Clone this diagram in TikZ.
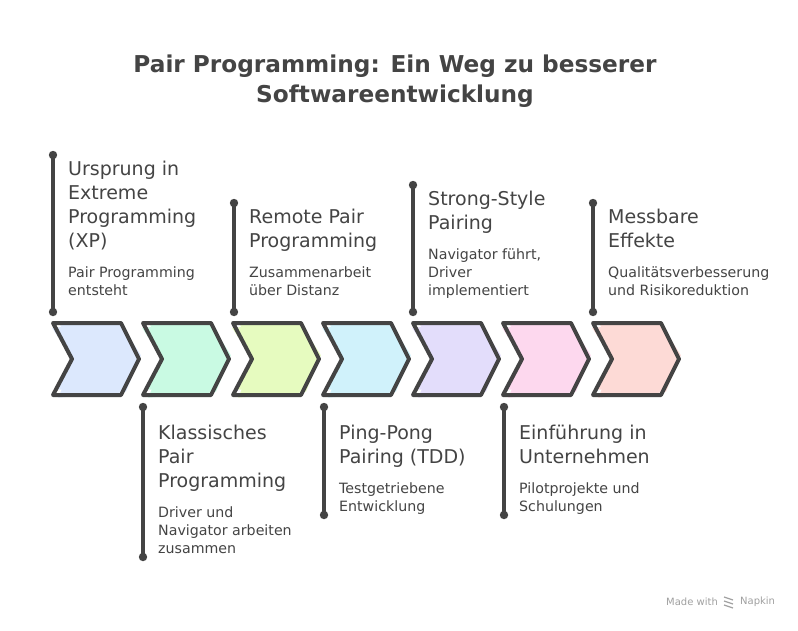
\documentclass[tikz,border=0pt]{standalone}
\usepackage{fontspec}
\setmainfont{DejaVu Sans}
\definecolor{ink}{HTML}{444444}
\definecolor{cA}{HTML}{DCE8FD}
\definecolor{cB}{HTML}{C9FAE3}
\definecolor{cC}{HTML}{E6FBBF}
\definecolor{cD}{HTML}{D0F2FB}
\definecolor{cE}{HTML}{E3DDFB}
\definecolor{cF}{HTML}{FDD8EE}
\definecolor{cG}{HTML}{FDDAD6}
\definecolor{wm}{HTML}{A0A0A0}
\tikzset{
  chevline/.style={draw=ink, line width=4pt, line join=round},
  stem/.style={draw=ink, line width=4pt},
  dotend/.style={fill=ink},
  head/.style={anchor=north west, inner sep=0pt, align=left, text=ink, font=\fontsize{19}{24}\selectfont},
  desc/.style={anchor=north west, inner sep=0pt, align=left, text=ink, font=\fontsize{14.2}{18}\selectfont},
  ttl/.style={inner sep=0pt, align=center, text=ink, font=\bfseries\fontsize{23.2}{30}\selectfont},
}
\begin{document}
\begin{tikzpicture}[x=1pt,y=-1pt]
\useasboundingbox[fill=white] (0,0) rectangle (798,630);

\node[ttl] (title) at (395,81) {Pair Programming: Ein Weg zu besserer\\Softwareentwicklung};

% chevrons
\foreach \i/\c in {0/cA,1/cB,2/cC,3/cD,4/cE,5/cF,6/cG} {
  \pgfmathsetmacro\xx{53+90*\i}
  \fill[\c, rotate around={5:(\xx+45,359)}] (\xx+2,324) -- ++(68,0) -- ++(18,35) -- ++(-18,35) -- ++(-68,0) -- ++(19,-35) -- cycle;
  \fill[\c, rotate around={-4:(\xx+43,359)}] (\xx+4,326) -- ++(64,0) -- ++(17,33) -- ++(-17,33) -- ++(-64,0) -- ++(18,-33) -- cycle;
  \draw[chevline] (\xx,323) -- ++(68,0) -- ++(18,36) -- ++(-18,36) -- ++(-68,0) -- ++(19,-36) -- cycle;
}

% stems: coordinates
\coordinate (s1a) at (53,155);  \coordinate (s1b) at (53,312);
\coordinate (s3a) at (234,203); \coordinate (s3b) at (234,312);
\coordinate (s5a) at (413,185); \coordinate (s5b) at (413,312);
\coordinate (s7a) at (593,203); \coordinate (s7b) at (593,312);
\coordinate (s2a) at (143,407); \coordinate (s2b) at (143,557);
\coordinate (s4a) at (324,407); \coordinate (s4b) at (324,515);
\coordinate (s6a) at (504,407); \coordinate (s6b) at (504,515);
\foreach \s in {1,2,3,4,5,6,7} {
  \draw[stem] (s\s a) -- (s\s b);
  \fill[dotend] (s\s a) circle (4.2);
  \fill[dotend] (s\s b) circle (4.2);
}

% texts
\node[head] (h1) at (68,161) {Ursprung in\\Extreme\\Programming\\(XP)};
\node[desc] (d1) at (68,267) {Pair Programming\\entsteht};
\node[head] (h3) at (249,209) {Remote Pair\\Programming};
\node[desc] (d3) at (249,267) {Zusammenarbeit\\über Distanz};
\node[head] (h5) at (428,191) {Strong-Style\\Pairing};
\node[desc] (d5) at (428,249) {Navigator führt,\\Driver\\implementiert};
\node[head] (h7) at (608,209) {Messbare\\Effekte};
\node[desc] (d7) at (608,267) {Qualitätsverbesserung\\und Risikoreduktion};
\node[head] (h2) at (158,425) {Klassisches\\Pair\\Programming};
\node[desc] (d2) at (158,507) {Driver und\\Navigator arbeiten\\zusammen};
\node[head] (h4) at (339,425) {Ping-Pong\\Pairing (TDD)};
\node[desc] (d4) at (339,483) {Testgetriebene\\Entwicklung};
\node[head] (h6) at (519,425) {Einführung in\\Unternehmen};
\node[desc] (d6) at (519,483) {Pilotprojekte und\\Schulungen};

% watermark
\node[anchor=west, inner sep=0pt, text=wm, font=\fontsize{10}{12}\selectfont] (wm1) at (666,602) {Made with};
\node[anchor=west, inner sep=0pt, text=wm, font=\fontsize{10}{12}\selectfont] (wm2) at (740,602) {Napkin};
\draw[wm, line width=1.2pt] (724,597) -- (733,600) (724,601) -- (733,604) (724,605) -- (733,608);
\end{tikzpicture}
\end{document}
